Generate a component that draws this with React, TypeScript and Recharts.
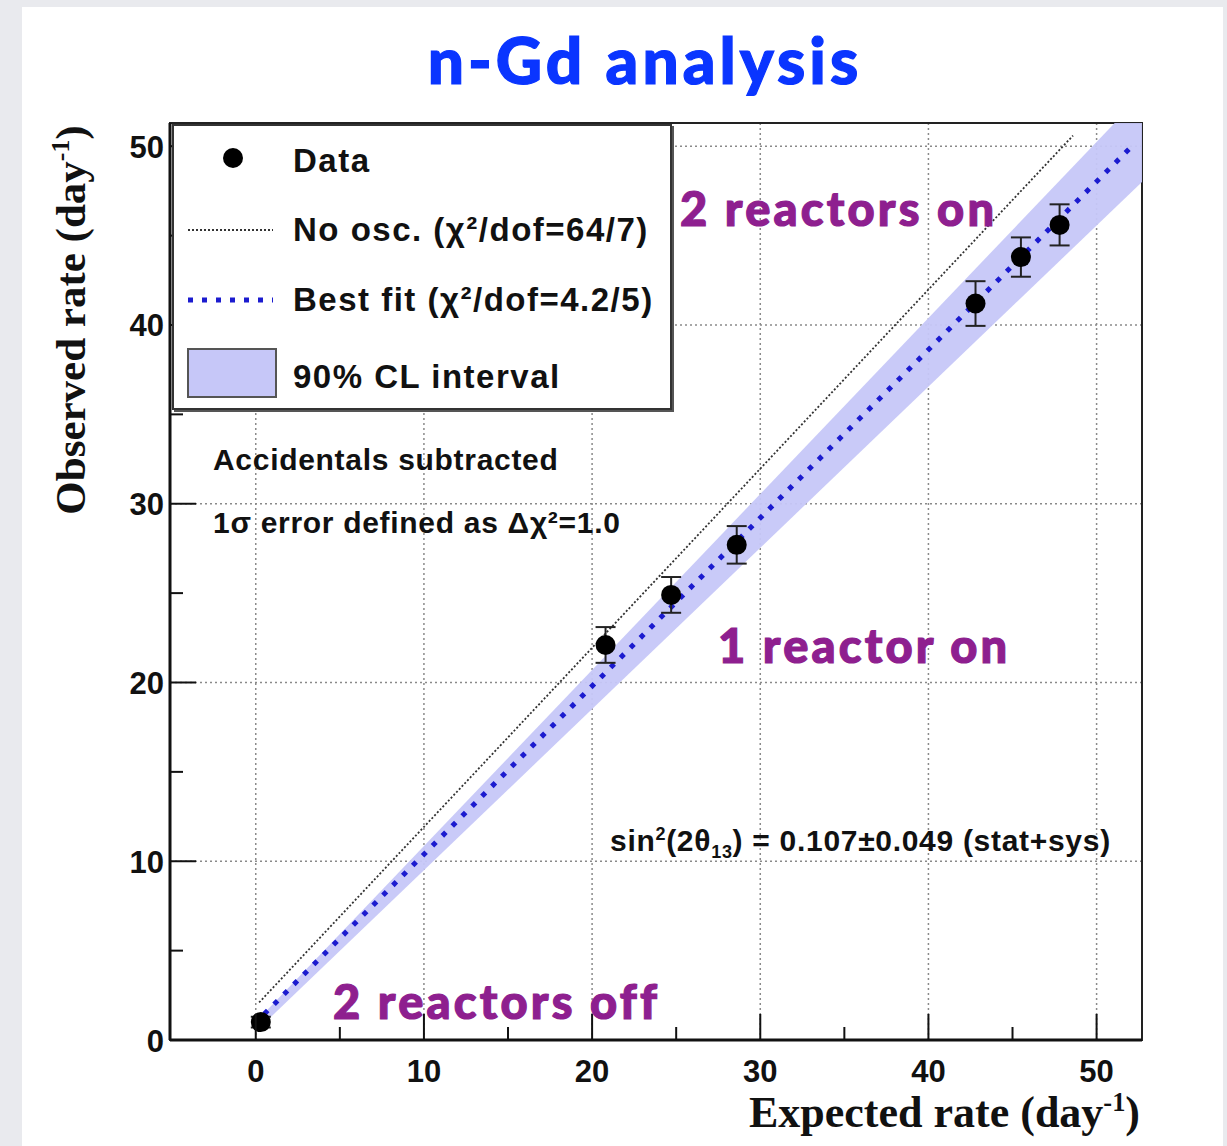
import React from 'react';
import { ComposedChart, XAxis, YAxis, CartesianGrid, Area, Line, Scatter, ErrorBar, ReferenceArea } from 'recharts';

// axis ticks (majors every 10 get a label, minors every 5)
const xTicks = [0, 5, 10, 15, 20, 25, 30, 35, 40, 45, 50];
const yTicks = [0, 5, 10, 15, 20, 25, 30, 35, 40, 45, 50];
const gridX = [0, 10, 20, 30, 40, 50];
const gridY = [10, 20, 30, 40, 50];

// measured points: expected vs observed rate (day^-1)
const expected = [0.3, 20.8, 24.7, 28.6, 42.8, 45.5, 47.8];
const observed = [1.0, 22.1, 24.9, 27.7, 41.2, 43.8, 45.6];
const errors = [0.3, 1.0, 1.0, 1.05, 1.25, 1.1, 1.15];

// no oscillation line
const noOscX = [0.2, 48.6];
const noOscY = [2.1, 50.6];

// best fit line
const fitX = [0.5, 52.1];
const fitY = [1.45, 50.0];

// 90% CL band
const bandX = [0.3, 52.7];
const bandLow = [0.75, 48.0];
const bandHigh = [1.3, 52.9];

const points = expected.map((x, i) => ({ x, y: observed[i], err: errors[i] }));
const noOsc = noOscX.map((x, i) => ({ x, y: noOscY[i] }));
const fit = fitX.map((x, i) => ({ x, y: fitY[i] }));
const band = bandX.map((x, i) => ({ x, band: [bandLow[i], bandHigh[i]] }));

const helv = '"Liberation Sans", Arial, Helvetica, sans-serif';
const times = '"Liberation Serif", "Times New Roman", serif';
const gill = 'Lato, "Open Sans", sans-serif';
const purple = '#8e1f8f';

const XTick = ({ x, y, payload }: any) => {
  const major = payload.value % 10 === 0;
  return (
    <g>
      <line x1={x} x2={x} y1={y} y2={y - (major ? 26 : 13)} stroke="#111" strokeWidth={2} />
      {major && (
        <text x={x} y={y + 31} textAnchor="middle" dominantBaseline="central"
          fontFamily={helv} fontWeight="bold" fontSize={31} fill="#111">{payload.value}</text>
      )}
    </g>
  );
};

const YTick = ({ x, y, payload }: any) => {
  const major = payload.value % 10 === 0;
  return (
    <g>
      <line x1={x} x2={x + (major ? 26 : 13)} y1={y} y2={y} stroke="#111" strokeWidth={2} />
      {major && (
        <text x={x - 6} y={y + 1} textAnchor="end" dominantBaseline="central"
          fontFamily={helv} fontWeight="bold" fontSize={31} fill="#111">{payload.value}</text>
      )}
    </g>
  );
};

const abs = (left: number, top: number, extra: React.CSSProperties = {}): React.CSSProperties => ({
  position: 'absolute', left, top, transform: 'translateY(-50%)', whiteSpace: 'nowrap', lineHeight: 1, ...extra,
});

const legendText: React.CSSProperties = { fontFamily: helv, fontWeight: 'bold', fontSize: 33, letterSpacing: 1.5, color: '#111' };
const noteText: React.CSSProperties = { fontFamily: helv, fontWeight: 'bold', fontSize: 30, letterSpacing: 0.7, color: '#111' };
const annText: React.CSSProperties = { fontFamily: gill, fontWeight: 900, fontSize: 47, letterSpacing: 3.2, color: purple, WebkitTextStroke: `1.2px ${purple}` };

const App = () => {
  return (
    <div style={{ position: 'absolute', left: 0, top: 0, width: 1227, height: 1146, background: '#e9eaee', overflow: 'hidden' }}>
      <div style={{ position: 'absolute', left: 22, top: 7, width: 1201, height: 1139, background: '#fff' }} />
      <div style={{ position: 'absolute', left: 0, top: 0 }}>
        <ComposedChart width={1227} height={1146} margin={{ top: 123, right: 85, bottom: 46, left: 110 }}>
          <CartesianGrid horizontalValues={gridY} verticalValues={gridX} stroke="#8a8a8a" strokeDasharray="2 3" strokeWidth={1.5} />
          <XAxis type="number" dataKey="x" domain={[-5.1, 52.7]} ticks={xTicks} interval={0} allowDataOverflow
            height={60} tickSize={0} tickMargin={0} tick={<XTick />} tickLine={false}
            axisLine={{ stroke: '#111', strokeWidth: 3 }} />
          <YAxis type="number" domain={[0, 51.3]} ticks={yTicks} interval={0} allowDataOverflow
            width={60} tickSize={0} tickMargin={0} tick={<YTick />} tickLine={false}
            axisLine={{ stroke: '#111', strokeWidth: 3 }} />
          <ReferenceArea x1={-5.1} x2={52.7} y1={0} y2={51.3} fill="none" stroke="#222" strokeWidth={2} ifOverflow="visible" />
          <Area data={band} dataKey="band" type="linear" fill="#c6c7f8" fillOpacity={0.95} stroke="none" isAnimationActive={false} />
          <Line data={noOsc} dataKey="y" type="linear" stroke="#333" strokeWidth={1.8} strokeDasharray="2 2" dot={false} isAnimationActive={false} />
          <Line data={fit} dataKey="y" type="linear" stroke="#1b1bcf" strokeWidth={5} strokeDasharray="5 9" dot={false} isAnimationActive={false} />
          <Scatter data={points} dataKey="y" isAnimationActive={false}
            shape={(p: any) => <circle cx={p.cx} cy={p.cy} r={10} fill="#000" />}>
            <ErrorBar dataKey="err" direction="y" width={10} stroke="#222" strokeWidth={2} />
          </Scatter>
        </ComposedChart>
      </div>

      {/* legend box */}
      <div style={{ position: 'absolute', left: 172, top: 124, width: 496, height: 282, background: '#fff', border: '2px solid #333', boxShadow: '2px 2px 0 #555' }} />
      <svg style={{ position: 'absolute', left: 0, top: 0 }} width={700} height={420}>
        <circle cx={233} cy={158} r={10} fill="#000" />
        <line x1={188} x2={273} y1={230} y2={230} stroke="#333" strokeWidth={1.8} strokeDasharray="2 2" />
        <line x1={188} x2={273} y1={300} y2={300} stroke="#1b1bcf" strokeWidth={5} strokeDasharray="5 9" />
        <rect x={188} y={349} width={88} height={48} fill="#c6c7f8" stroke="#555" strokeWidth={2} />
      </svg>
      <div style={abs(293, 160, legendText)}>Data</div>
      <div style={abs(293, 229, legendText)}>No osc. (χ²/dof=64/7)</div>
      <div style={abs(293, 299, legendText)}>Best fit (χ²/dof=4.2/5)</div>
      <div style={abs(293, 376, legendText)}>90% CL interval</div>

      {/* in-plot notes */}
      <div style={abs(213, 460, noteText)}>Accidentals subtracted</div>
      <div style={abs(213, 523, noteText)}>1σ error defined as Δχ²=1.0</div>
      <div style={abs(610, 843, noteText)}>
        sin<sup style={{ fontSize: '0.6em' }}>2</sup>(2θ<sub style={{ fontSize: '0.6em' }}>13</sub>) = 0.107±0.049 (stat+sys)
      </div>

      {/* annotations */}
      <div style={abs(680, 208, annText)}>2 reactors on</div>
      <div style={abs(718, 645, annText)}>1 reactor on</div>
      <div style={abs(333, 1001, annText)}>2 reactors off</div>

      {/* title */}
      <div style={{ position: 'absolute', left: 0, width: 1290, top: 60, transform: 'translateY(-50%)', textAlign: 'center', fontFamily: gill, fontWeight: 900, fontSize: 64, letterSpacing: 4, color: '#0a35ff', WebkitTextStroke: '1.2px #0a35ff', lineHeight: 1 }}>n-Gd analysis</div>

      {/* axis titles */}
      <div style={{ position: 'absolute', right: 1227 - 1140, top: 1112, transform: 'translateY(-50%)', fontFamily: times, fontWeight: 'bold', fontSize: 44, color: '#111', lineHeight: 1, whiteSpace: 'nowrap' }}>
        Expected rate (day<sup style={{ fontSize: '0.6em' }}>-1</sup>)
      </div>
      <div style={{ position: 'absolute', left: 70, top: 320, transform: 'translate(-50%, -50%) rotate(-90deg)', fontFamily: times, fontWeight: 'bold', fontSize: 43, color: '#111', lineHeight: 1, whiteSpace: 'nowrap' }}>
        Observed rate (day<sup style={{ fontSize: '0.6em' }}>-1</sup>)
      </div>
    </div>
  );
};

export default App;
